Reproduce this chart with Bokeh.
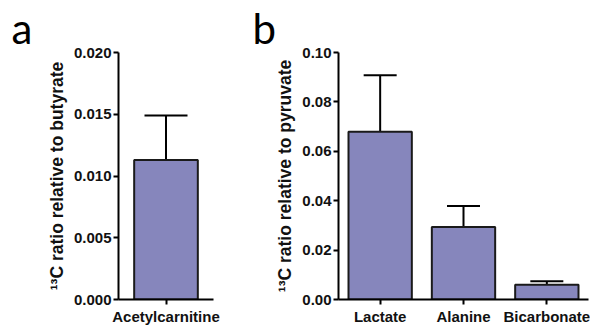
from bokeh.plotting import figure
from bokeh.layouts import row
from bokeh.models import (FactorRange, Range1d, ColumnDataSource, Whisker, TeeHead,
                          SingleIntervalTicker, NumeralTickFormatter)
from bokeh.embed import file_html
from bokeh.resources import INLINE

# ---- data ----
cats_a = ["Acetylcarnitine"]
mean_a = [0.0113]
err_a = [0.0036]

cats_b = ["Lactate", "Alanine", "Bicarbonate"]
mean_b = [0.0679, 0.0294, 0.0060]
err_b = [0.0229, 0.0085, 0.0014]

BAR = "#8686BC"
FONT = "Liberation Sans"


def style(p, ylabel, fmt, interval, letter, offset):
    p.outline_line_color = None
    p.xgrid.grid_line_color = None
    p.ygrid.grid_line_color = None
    for ax in (p.xaxis[0], p.yaxis[0]):
        ax.axis_line_width = 2
        ax.axis_line_color = "black"
        ax.major_tick_line_width = 2
        ax.major_tick_line_color = "black"
        ax.major_tick_out = 5
        ax.major_tick_in = 0
        ax.minor_tick_line_color = None
        ax.major_label_text_font = FONT
        ax.major_label_text_font_style = "bold"
        ax.major_label_text_font_size = "15px"
        ax.major_label_text_color = "#111111"
    p.xaxis.major_label_standoff = 3
    p.yaxis.major_label_standoff = 2
    p.yaxis.ticker = SingleIntervalTicker(interval=interval)
    p.yaxis.formatter = NumeralTickFormatter(format=fmt)
    p.yaxis.axis_label = ylabel
    p.yaxis.axis_label_text_font = FONT
    p.yaxis.axis_label_text_font_style = "bold"
    p.yaxis.axis_label_text_font_size = "17.5px"
    p.yaxis.axis_label_standoff = 4
    p.yaxis.axis_label_text_color = "#111111"
    p.title.text = letter
    p.title.text_font = "Lato"
    p.title.text_font_style = "normal"
    p.title.text_font_size = "42px"
    p.title.text_color = "black"
    p.title.align = "left"
    p.title.offset = offset
    p.title.standoff = 0


# ---- panel a ----
pa = figure(x_range=FactorRange(factors=cats_a, range_padding=0),
            y_range=Range1d(0, 0.020), width=228, height=327,
            output_backend="svg", toolbar_location=None,
            min_border_left=118, min_border_right=15,
            min_border_top=52, min_border_bottom=27)
src_a = ColumnDataSource(dict(x=cats_a, top=mean_a,
                              upper=[m + e for m, e in zip(mean_a, err_a)]))
pa.add_layout(Whisker(base="x", upper="upper", lower="top", source=src_a,
                      lower_head=None, line_width=2, line_color="black",
                      upper_head=TeeHead(size=43, line_width=2, line_color="black")))
pa.vbar(x="x", top="top", source=src_a, width=0.67, fill_color=BAR,
        line_color="#1a1a1a", line_width=2)
style(pa, "¹³C ratio relative to butyrate", "0.000", 0.005, "a", -107)

# ---- panel b ----
pb = figure(x_range=FactorRange(factors=cats_b, range_padding=0),
            y_range=Range1d(0, 0.10), width=362, height=327,
            output_backend="svg", toolbar_location=None,
            min_border_left=110, min_border_right=2,
            min_border_top=52, min_border_bottom=27)
src_b = ColumnDataSource(dict(x=cats_b, top=mean_b,
                              upper=[m + e for m, e in zip(mean_b, err_b)]))
pb.add_layout(Whisker(base="x", upper="upper", lower="top", source=src_b,
                      lower_head=None, line_width=2, line_color="black",
                      upper_head=TeeHead(size=33, line_width=2, line_color="black")))
pb.vbar(x="x", top="top", source=src_b, width=0.76, fill_color=BAR,
        line_color="#1a1a1a", line_width=2)
style(pb, "¹³C ratio relative to pyruvate", "0.00", 0.02, "b", -86)

layout = row(pa, pb)
open("out.html", "w").write(file_html(layout, INLINE))
